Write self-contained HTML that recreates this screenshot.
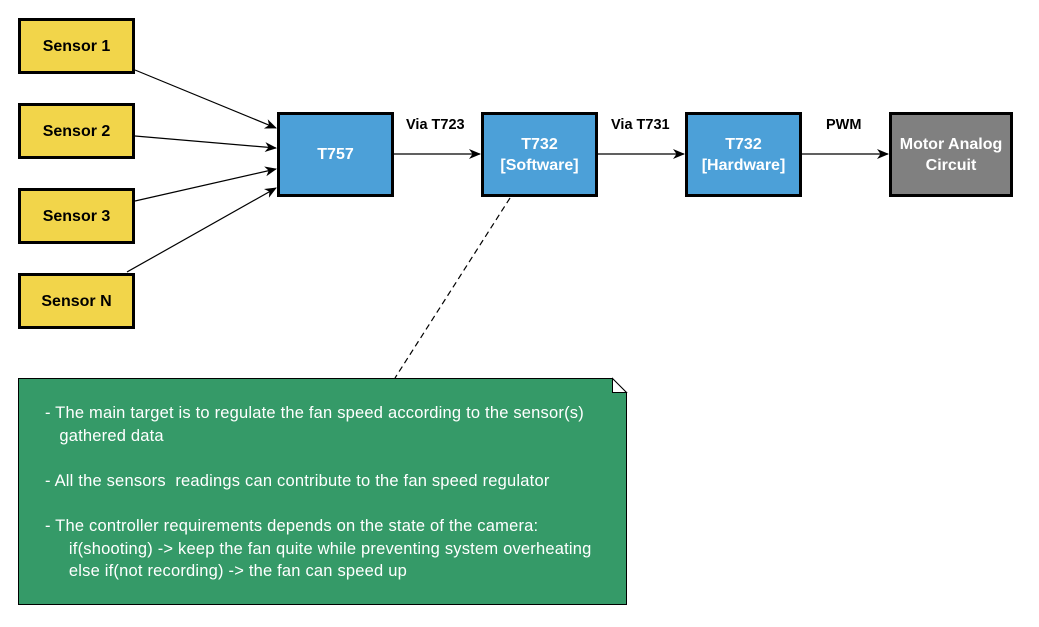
<!DOCTYPE html>
<html><head><style>
body{margin:0;width:1039px;height:627px;background:#fff;font-family:"Liberation Sans",sans-serif;position:relative;overflow:hidden}
.b{position:absolute;box-sizing:border-box;border:3px solid #000;display:flex;align-items:center;justify-content:center;text-align:center;font-weight:bold;font-size:16px;line-height:21px}
.s{background:#f2d54a;color:#000;left:18px;width:117px;height:56px}
.p{background:#4ca0d8;color:#fff;top:112px;width:117px;height:85px}
.l{position:absolute;font-weight:bold;font-size:14.5px}
.t{position:absolute;color:#fff;font-size:16.5px;letter-spacing:0.2px;white-space:pre;line-height:22.6px}
</style></head><body>
<svg width="1039" height="627" style="position:absolute;left:0;top:0">
<defs><marker id="a" markerWidth="12" markerHeight="12" refX="11" refY="6" orient="auto" markerUnits="userSpaceOnUse"><path d="M0,1 L12,6 L0,11 L3.5,6z" fill="#000"/></marker></defs>
<g stroke="#000" stroke-width="1.2" fill="none">
<line x1="135" y1="70" x2="276" y2="128" marker-end="url(#a)"/>
<line x1="135" y1="136" x2="276" y2="148" marker-end="url(#a)"/>
<line x1="135" y1="201" x2="276" y2="169" marker-end="url(#a)"/>
<line x1="127" y1="272" x2="276" y2="188" marker-end="url(#a)"/>
<line x1="394" y1="154" x2="480" y2="154" marker-end="url(#a)"/>
<line x1="598" y1="154" x2="684" y2="154" marker-end="url(#a)"/>
<line x1="802" y1="154" x2="888" y2="154" marker-end="url(#a)"/>
<line x1="510" y1="198" x2="395" y2="378" stroke-dasharray="6,4"/>
</g>
<path d="M18.5,378.5 H612.5 L626.5,392.5 V604.5 H18.5Z" fill="#359a68" stroke="#000"/>
<path d="M612.5,378.5 V392.5 H626.5Z" fill="#fff" stroke="#000"/>
</svg>
<div class="b s" style="top:18px">Sensor 1</div>
<div class="b s" style="top:103px">Sensor 2</div>
<div class="b s" style="top:188px">Sensor 3</div>
<div class="b s" style="top:273px">Sensor N</div>
<div class="b p" style="left:277px">T757</div>
<div class="b p" style="left:481px">T732<br>[Software]</div>
<div class="b p" style="left:685px">T732<br>[Hardware]</div>
<div class="b" style="left:889px;top:112px;width:124px;height:85px;background:#808080;color:#fff">Motor Analog<br>Circuit</div>
<div class="l" style="left:406px;top:117px">Via T723</div>
<div class="l" style="left:611px;top:117px">Via T731</div>
<div class="l" style="left:826px;top:117px">PWM</div>
<div class="t" style="left:45px;top:402px">- The main target is to regulate the fan speed according to the sensor(s)
   gathered data

- All the sensors  readings can contribute to the fan speed regulator

- The controller requirements depends on the state of the camera:
     if(shooting) -> keep the fan quite while preventing system overheating
     else if(not recording) -> the fan can speed up</div>
</body></html>
